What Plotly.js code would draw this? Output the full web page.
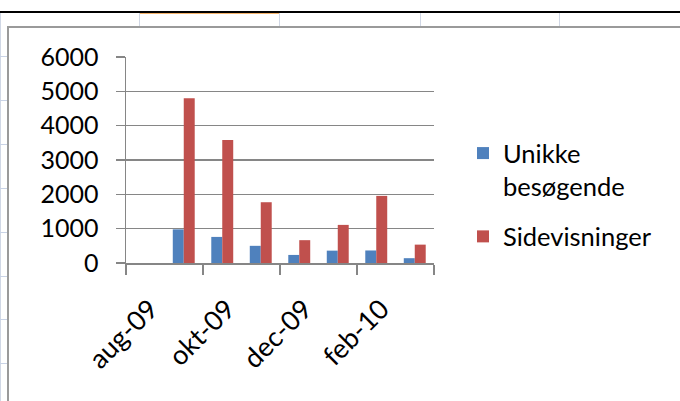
<!DOCTYPE html>
<html><head><meta charset="utf-8">
<script src="https://cdn.plot.ly/plotly-3.0.1.min.js"></script>
<style>
html,body{margin:0;padding:0;background:#fff;width:680px;height:401px;overflow:hidden;}
#sheet{position:absolute;left:0;top:0;width:680px;height:401px;}
#sheet div{position:absolute;}
#chart{position:absolute;left:0;top:0;width:680px;height:401px;}
</style></head><body>
<div id="sheet"></div>
<div id="chart"></div>
<script>
// ---- data ----
const months = ['aug-09','sep-09','okt-09','nov-09','dec-09','jan-10','feb-10','mar-10'];
const unikke = [null, 980, 760, 500, 235, 360, 365, 140];
const sidevisninger = [null, 4800, 3580, 1770, 665, 1110, 1955, 535];
const seriesNames = ['Unikke<br>besøgende', 'Sidevisninger'];
const yTicks = [0, 1000, 2000, 3000, 4000, 5000, 6000];

// ---- spreadsheet backdrop (decoration) ----
const sheet = document.getElementById('sheet');
function box(l, t, w, h, c) {
  const d = document.createElement('div');
  d.style.left = l + 'px'; d.style.top = t + 'px';
  d.style.width = w + 'px'; d.style.height = h + 'px';
  d.style.background = c; sheet.appendChild(d);
}
box(0, 11, 680, 2, '#000');
box(139, 13, 140, 1, '#f4b26a');
[0, 139, 279, 420, 559].forEach(x => box(x, 13, 1, 14, '#d0d7e5'));
box(0, 13, 1, 388, '#d0d7e5');
[56, 100, 144, 188, 232, 276, 319, 363].forEach(y => box(0, y, 7, 1, '#c9d3e6'));
box(7, 26, 673, 1.5, '#9a9a9a');
box(7, 26, 1.5, 375, '#9a9a9a');
box(9, 28, 671, 373, '#ffffff');

// ---- chart ----
const xIdx = months.map((m, i) => i);
const labelIdx = xIdx.filter(i => i % 2 === 0);
const boundaries = labelIdx.map(i => i - 0.5).concat([months.length - 0.5]);

const L = 126, R = 434, T = 57, B = 263;
const traces = [
  {type: 'bar', name: seriesNames[0], legendgroup: 'a', x: xIdx, y: unikke, marker: {color: '#4f81bd'}},
  {type: 'bar', name: seriesNames[1], legendgroup: 'b', x: xIdx, y: sidevisninger, marker: {color: '#c0504d'}}
];
const layout = {
  width: 680, height: 401,
  margin: {l: L, r: 680 - R, t: T, b: 401 - B, pad: 0},
  paper_bgcolor: 'rgba(0,0,0,0)', plot_bgcolor: 'rgba(0,0,0,0)',
  font: {family: 'Lato, Carlito, sans-serif', size: 25, color: '#000'},
  barmode: 'group', bargap: 0.43, bargroupgap: 0,
  xaxis: {
    range: [-0.5, months.length - 0.5], tickmode: 'array',
    tickvals: labelIdx, ticktext: labelIdx.map(i => months[i]),
    tickfont: {size: 27},
    ticks: '', tickangle: -45, showgrid: false, zeroline: false,
    ticklabelstandoff: 18, ticklabelshift: 5,
    showline: true, linecolor: '#868686', linewidth: 1.5,
    minor: {tickmode: 'array', tickvals: boundaries, ticks: 'outside', ticklen: 10,
            tickcolor: '#868686', tickwidth: 1.5, showgrid: false},
    fixedrange: true
  },
  yaxis: {
    range: [0, 6000], tickmode: 'array', tickvals: yTicks, ticktext: yTicks.map(String),
    ticks: 'outside', ticklen: 9, tickcolor: '#868686', tickwidth: 1.5,
    ticklabelstandoff: 12,
    showgrid: true, gridcolor: '#868686', gridwidth: 1.5,
    showline: true, linecolor: '#868686', linewidth: 1.5, zeroline: false,
    fixedrange: true
  },
  showlegend: true,
  legend: {
    x: (463 - L) / (R - L), xanchor: 'left',
    y: (B - 130) / (B - T), yanchor: 'top', valign: 'top',
    tracegroupgap: 14,
    font: {size: 25.5, color: '#000'}, bgcolor: 'rgba(0,0,0,0)'
  }
};
Plotly.newPlot('chart', traces, layout, {displayModeBar: false, staticPlot: true});
</script>
</body></html>
